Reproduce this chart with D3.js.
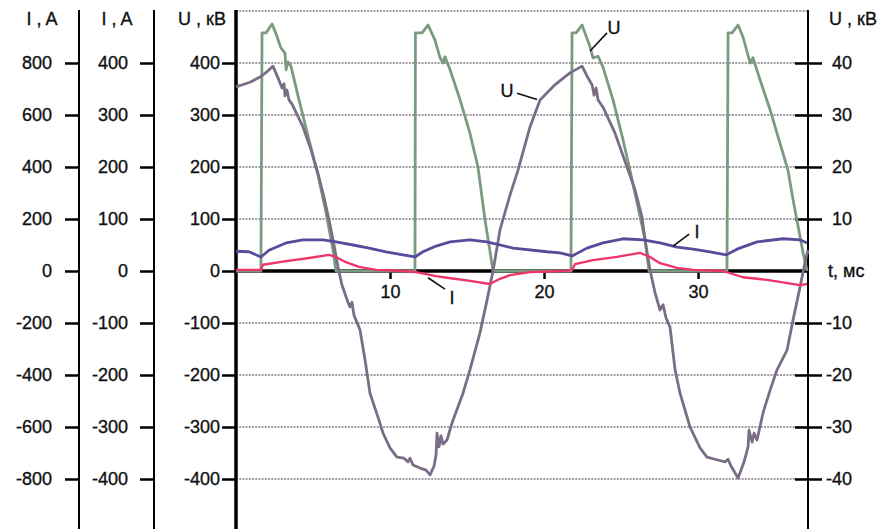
<!DOCTYPE html>
<html>
<head>
<meta charset="utf-8">
<script src="https://cdn.jsdelivr.net/npm/d3@7"></script>
<style>
  body { margin: 0; background: #fff; }
  text { font-family: 'Liberation Sans', Arial, sans-serif; }
</style>
</head>
<body>
<div id="chart"></div>
<script>
/* global d3*/

// voltage U, kV (left scale), time in ms
let uTime = [0, 0.91, 1.56, 2.08, 2.40, 2.79, 2.99, 3.12, 3.18, 3.31,
  3.44, 3.64, 4.35, 4.87, 5.32, 5.71, 6.04, 6.30, 6.62, 6.88,
  7.27, 7.40, 7.53, 7.66, 8.05, 8.38, 8.70, 9.22, 9.55, 10.0,
  10.45, 10.91, 11.17, 11.30, 11.49, 11.95, 12.34, 12.60, 12.86, 12.99,
  13.05, 13.18, 13.31, 13.44, 13.70, 14.03, 14.74, 15.19, 15.84, 16.30,
  16.69, 17.14, 17.79, 18.31, 19.09, 19.74, 20.71, 21.17, 21.69, 22.47,
  22.86, 23.12, 23.25, 23.38, 23.51, 23.83, 24.61, 25.39, 25.91, 26.36,
  26.56, 26.88, 27.21, 27.53, 27.73, 27.92, 28.18, 28.51, 28.83, 29.48,
  30.13, 30.58, 31.23, 31.75, 31.95, 32.14, 32.60, 32.99, 33.25, 33.31,
  33.51, 33.64, 33.83, 34.22, 34.68, 35.13, 35.78, 36.17, 36.62, 36.95, 37.14];
let uValues = [354, 363, 373, 385, 394, 367, 352, 360, 337, 348,
  329, 321, 277, 233, 188, 142, 98, 60, 8, -27,
  -60, -69, -60, -85, -113, -171, -235, -281, -312, -340,
  -358, -360, -367, -360, -373, -379, -383, -392, -375, -354,
  -312, -338, -317, -333, -325, -292, -235, -190, -119, -56,
  0, 79, 146, 194, 277, 329, 358, 369, 381, 394,
  371, 358, 338, 352, 329, 315, 265, 200, 156, 104,
  60, 2, -42, -75, -65, -90, -108, -190, -235, -300,
  -340, -358, -363, -367, -362, -375, -398, -367, -338, -306,
  -329, -312, -325, -273, -229, -190, -152, -94, -31, 17, 40];

// chopped voltage U, kV (right scale)
let pulseTime = [0, 1.62, 1.69, 1.95, 2.34, 2.60, 2.92, 3.18, 3.25, 3.38,
  3.57, 4.09, 4.74, 5.32, 5.84, 6.30, 6.49, 11.62, 11.65, 12.08,
  12.47, 12.92, 13.25, 13.44, 13.57, 13.90, 14.55, 15.19, 15.71, 16.17,
  16.69, 21.75, 21.82, 22.08, 22.47, 22.99, 23.18, 23.51, 23.83, 24.48,
  25.13, 25.58, 26.10, 26.56, 26.82, 31.88, 31.95, 32.21, 32.60, 32.92,
  33.38, 33.57, 34.03, 34.68, 35.32, 35.84, 36.17, 36.82, 37.08];
let pulseValues = [0, 0, 45.8, 45.8, 47.5, 45.6, 42.9, 41.9, 38.7, 40.2,
  39.4, 32.9, 25.2, 18.5, 11.3, 4.0, 0, 0, 45.8, 45.8,
  47.3, 44.4, 41.0, 40.0, 41.2, 38.7, 32.9, 26.5, 20.0, 9.8,
  0, 0, 45.8, 45.8, 47.3, 43.1, 41.0, 41.3, 39.2, 32.9,
  25.2, 19.4, 12.3, 6.0, 0, 0, 45.8, 45.8, 47.3, 45.0,
  40.0, 41.0, 36.7, 31.0, 24.6, 19.4, 13.7, 3.5, 0];

// current I, A (400 A scale) - upper curve
let iUpperTime = [0, 0.84, 1.62, 2.14, 3.25, 4.35, 5.65, 6.49, 7.60, 8.64,
  9.74, 10.84, 11.62, 12.14, 12.99, 13.90, 15.19, 16.30, 17.99, 20.19,
  21.04, 21.82, 22.79, 23.83, 25.13, 26.43, 27.53, 28.64, 29.68, 30.78,
  31.82, 32.53, 33.83, 35.52, 36.62, 37.08];
let iUpperValues = [38, 37, 27, 40, 54, 60, 60, 56, 50, 44,
  37, 31, 27, 37, 48, 56, 60, 56, 44, 37,
  35, 29, 44, 54, 62, 60, 54, 46, 42, 37,
  31, 42, 56, 62, 60, 54];

// current I, A (400 A scale) - lower curve
let iLowerTime = [0, 1.62, 1.75, 3.25, 4.74, 6.04, 6.49, 7.14, 7.99, 9.09,
  10.84, 11.69, 12.99, 13.70, 15.19, 16.49, 17.14, 17.79, 19.09, 21.23,
  21.82, 22.01, 23.18, 24.74, 26.23, 26.88, 27.53, 28.64, 29.68, 31.62,
  32.92, 34.48, 36.62, 37.08];
let iLowerValues = [2, 2, 12, 19, 25, 31, 27, 17, 8, 2,
  0, -2, -10, -13, -19, -25, -15, -8, -2, 0,
  2, 13, 21, 27, 35, 27, 15, 6, 2, 0,
  -12, -17, -27, -25];

// tick labels
let amp800Ticks = [800, 600, 400, 200, 0, -200, -400, -600, -800];
let amp400Ticks = [400, 300, 200, 100, 0, -100, -200, -300, -400];
let kvLeftTicks = [400, 300, 200, 100, 0, -100, -200, -300, -400];
let kvRightTicks = [40, 30, 20, 10, -10, -20, -30, -40];
let timeTicks = [10, 20, 30];
let gridValues = [500, 400, 300, 200, 100, -100, -200, -300, -400, -498];

// annotations: [text, label t, label value, leader from t, v, leader to t, v]
let notes = [
  ['U', 17.6, 346, 18.25, 342, 19.55, 330],
  ['U', 24.55, 467, 24.09, 458, 22.99, 423],
  ['I', 29.94, 75, 29.42, 71, 28.38, 48],
  ['I', 14.03, -52, 13.57, -35, 12.47, -13]
];

function plot() {
  let width = 890, height = 529;
  let left = 236, right = 808;
  let fontSize = 18;

  let xScale = d3.scaleLinear().domain([0, 37.14]).range([left, right]);
  let yU = d3.scaleLinear().domain([-500, 500]).range([531, 11]);
  let yI800 = d3.scaleLinear().domain([-1000, 1000]).range([531, 11]);
  let yI400 = d3.scaleLinear().domain([-500, 500]).range([531, 11]);
  let yUright = d3.scaleLinear().domain([-50, 50]).range([531, 11]);

  let svg = d3.select('#chart')
    .append('svg')
    .attr('width', width)
    .attr('height', height);

  // grid
  svg.append('g')
    .selectAll('line')
    .data(gridValues)
    .enter()
    .append('line')
    .attr('x1', left)
    .attr('x2', right)
    .attr('y1', d => yU(d))
    .attr('y2', d => yU(d))
    .attr('stroke', '#857a82')
    .attr('stroke-width', 1.4)
    .attr('stroke-dasharray', '2,1.2');

  // vertical axes
  let styleAxis = function(g, x, lineWidth) {
    g.attr('font-family', "'Liberation Sans', Arial, sans-serif")
      .attr('font-size', fontSize);
    g.select('.domain').remove();
    g.selectAll('.tick line').attr('stroke-width', 2.5);
    g.selectAll('.tick text')
      .attr('fill', '#111')
      .attr('stroke', '#111')
      .attr('stroke-width', 0.35);
    svg.append('line')
      .attr('x1', x).attr('x2', x)
      .attr('y1', 10).attr('y2', height)
      .attr('stroke', 'black')
      .attr('stroke-width', lineWidth);
  };

  let g1 = svg.append('g')
    .attr('transform', 'translate(79,0)')
    .call(d3.axisLeft(yI800).tickValues(amp800Ticks).tickSize(14)
      .tickSizeOuter(0).tickPadding(13).tickFormat(d => d));
  styleAxis(g1, 79, 2);

  let g2 = svg.append('g')
    .attr('transform', 'translate(154,0)')
    .call(d3.axisLeft(yI400).tickValues(amp400Ticks).tickSize(14)
      .tickSizeOuter(0).tickPadding(12).tickFormat(d => d));
  styleAxis(g2, 154, 2);

  let g3 = svg.append('g')
    .attr('transform', 'translate(236,0)')
    .call(d3.axisLeft(yU).tickValues(kvLeftTicks).tickSize(14)
      .tickSizeOuter(0).tickPadding(2).tickFormat(d => d));
  styleAxis(g3, 236, 3.5);

  let g4 = svg.append('g')
    .attr('transform', 'translate(808,0)')
    .call(d3.axisRight(yUright).tickValues(kvRightTicks).tickSize(14)
      .tickSizeOuter(0).tickPadding(0).tickFormat(d => d));
  styleAxis(g4, 808, 2);
  g4.selectAll('.tick line').attr('x1', -13);
  g4.selectAll('.tick text').attr('text-anchor', 'end').attr('x', 44);

  // axis titles
  let titles = [['I , A', 42], ['I , A', 117], ['U , кВ', 202], ['U , кВ', 853]];
  svg.selectAll('text.title')
    .data(titles)
    .enter()
    .append('text')
    .attr('class', 'title')
    .attr('x', d => d[1])
    .attr('y', 25)
    .attr('text-anchor', 'middle')
    .style('font-size', fontSize + 'px')
    .attr('fill', '#111')
    .attr('stroke', '#111')
    .attr('stroke-width', 0.35)
    .text(d => d[0]);

  // time axis
  svg.append('line')
    .attr('x1', left).attr('x2', right)
    .attr('y1', yU(0)).attr('y2', yU(0))
    .attr('stroke', 'black')
    .attr('stroke-width', 3.5);
  let gx = svg.append('g')
    .attr('transform', 'translate(0,' + yU(0) + ')')
    .call(d3.axisBottom(xScale).tickValues(timeTicks).tickSize(8)
      .tickSizeOuter(0).tickPadding(6).tickFormat(d => d));
  gx.attr('font-family', "'Liberation Sans', Arial, sans-serif")
    .attr('font-size', fontSize);
  gx.select('.domain').remove();
  gx.selectAll('.tick line').attr('stroke-width', 2.5);
  gx.selectAll('.tick text')
    .attr('fill', '#111')
    .attr('stroke', '#111')
    .attr('stroke-width', 0.35);
  svg.append('text')
    .attr('x', 828)
    .attr('y', yU(0))
    .attr('dy', '0.35em')
    .style('font-size', fontSize + 'px')
    .attr('fill', '#111')
    .attr('stroke', '#111')
    .attr('stroke-width', 0.35)
    .text('t, мс');

  // curves
  let line = yScale => d3.line()
    .x(d => xScale(d[0]))
    .y(d => yScale(d[1]));

  let series = [
    [d3.zip(pulseTime, pulseValues), yUright, '#7c9a80', 2.8],
    [d3.zip(uTime, uValues), yU, '#7a6d86', 2.8],
    [d3.zip(iUpperTime, iUpperValues), yI400, '#5b4a9b', 2.8],
    [d3.zip(iLowerTime, iLowerValues), yI400, '#ee3469', 2.3]
  ];
  series.forEach(s => {
    svg.append('path')
      .datum(s[0])
      .attr('fill', 'none')
      .attr('stroke', s[2])
      .attr('stroke-width', s[3])
      .attr('stroke-linejoin', 'round')
      .attr('d', line(s[1]));
  });

  // annotations
  notes.forEach(n => {
    let ys = n[0] === 'U' ? yU : yI400;
    svg.append('line')
      .attr('x1', xScale(n[3])).attr('y1', ys(n[4]))
      .attr('x2', xScale(n[5])).attr('y2', ys(n[6]))
      .attr('stroke', '#111')
      .attr('stroke-width', 1.6);
    svg.append('text')
      .attr('x', xScale(n[1]))
      .attr('y', ys(n[2]))
      .attr('dy', '0.35em')
      .attr('text-anchor', 'middle')
      .style('font-size', fontSize + 'px')
      .attr('fill', '#111')
      .attr('stroke', '#111')
      .attr('stroke-width', 0.35)
      .text(n[0]);
  });
}

plot();
</script>
</body>
</html>
